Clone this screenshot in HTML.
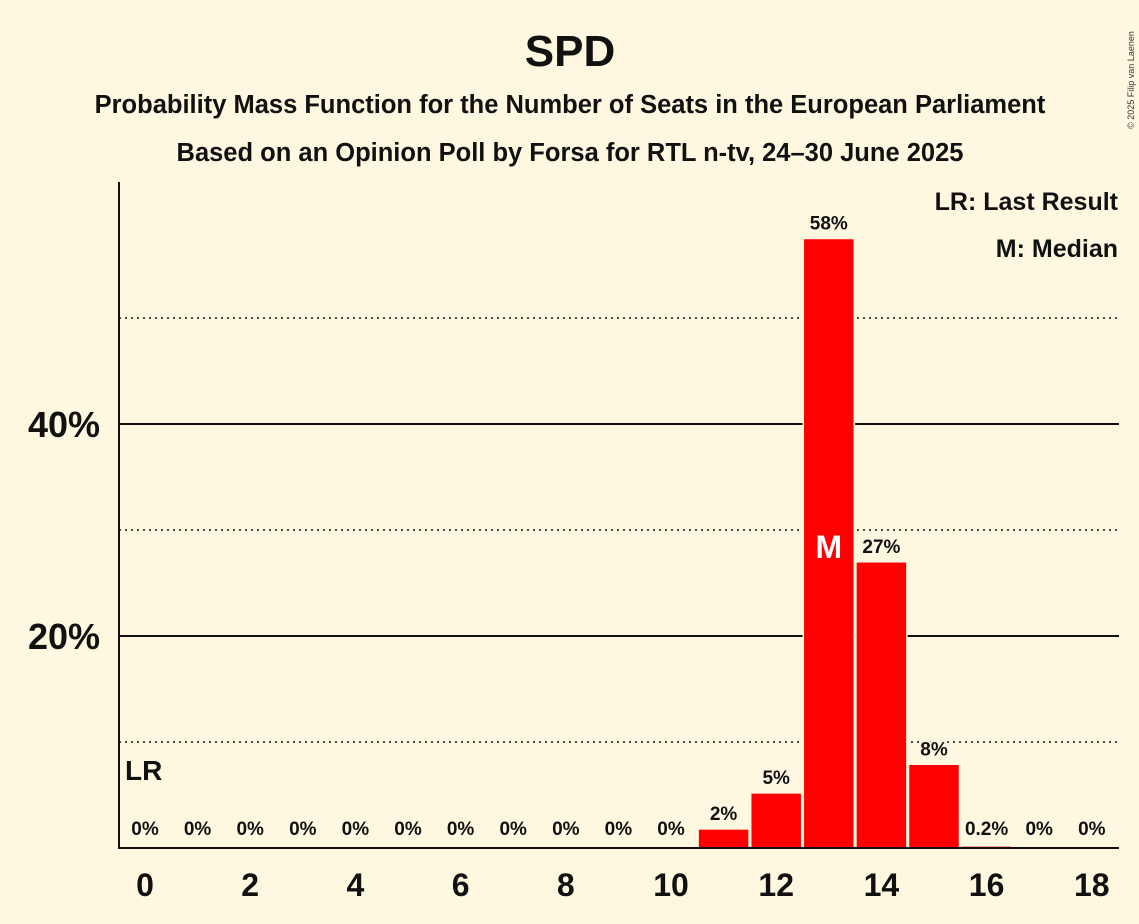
<!DOCTYPE html>
<html><head><meta charset="utf-8"><style>
body{margin:0;background:#fff8e1;}
svg{display:block;font-family:"Liberation Sans",sans-serif;}
</style></head><body>
<svg width="1139" height="924" id="c">
<rect width="1139" height="924" fill="#fff8e1"/>
<text x="570" y="66" text-anchor="middle" font-size="44" font-weight="bold" fill="#111">SPD</text>
<text x="570" y="113" text-anchor="middle" font-size="25.5" font-weight="bold" fill="#111">Probability Mass Function for the Number of Seats in the European Parliament</text>
<text x="570" y="161" text-anchor="middle" font-size="25.5" font-weight="bold" fill="#111">Based on an Opinion Poll by Forsa for RTL n-tv, 24–30 June 2025</text>
<text x="1118" y="210" text-anchor="end" font-size="25" font-weight="bold" fill="#111">LR: Last Result</text>
<text x="1118" y="257" text-anchor="end" font-size="25" font-weight="bold" fill="#111">M: Median</text>
<text x="1134" y="80" transform="rotate(-90 1134 80)" text-anchor="middle" font-size="9" fill="#333">© 2025 Filip van Laenen</text>
<g id="grid"></g>
<g id="bars"></g>
<line x1="119" y1="182" x2="119" y2="848" stroke="#111" stroke-width="2"/>
<line x1="118" y1="848" x2="1119" y2="848" stroke="#111" stroke-width="2"/>
<text x="125" y="780" font-size="28" font-weight="bold" fill="#111">LR</text>
</svg>
<script>
const categories=[0,1,2,3,4,5,6,7,8,9,10,11,12,13,14,15,16,17,18];
const values=[0,0,0,0,0,0,0,0,0,0,0,1.8,5.2,57.5,27.0,7.9,0.2,0,0];
const valueLabels=["0%","0%","0%","0%","0%","0%","0%","0%","0%","0%","0%","2%","5%","58%","27%","8%","0.2%","0%","0%"];
const xTicks=[0,2,4,6,8,10,12,14,16,18];
const gridValues=[10,20,30,40,50];
const yTickLabels=["20%","40%"];
const yTickValues=[20,40];
const medianIndex=13;
const NS="http://www.w3.org/2000/svg";
const y=v=>848-v*10.6;
const x=c=>145+c*52.6;
const grid=document.getElementById('grid'),bars=document.getElementById('bars'),svg=document.getElementById('c');
function mk(t,a,p){const e=document.createElementNS(NS,t);for(const k in a)e.setAttribute(k,a[k]);(p||svg).appendChild(e);return e;}
gridValues.forEach(g=>{const solid=g%20===0;
const l=mk('line',{x1:119,x2:1119,y1:y(g),y2:y(g),stroke:'#111','stroke-width':solid?2:1.5,'stroke-dasharray':solid?'':'2,4'},grid);

});
yTickValues.forEach((v,i)=>{const t=mk('text',{x:100,y:y(v)+13,'text-anchor':'end','font-size':36,'font-weight':'bold',fill:'#111'});t.textContent=yTickLabels[i];

});
xTicks.forEach(c=>{const t=mk('text',{x:x(c),y:896,'text-anchor':'middle','font-size':32,'font-weight':'bold',fill:'#111'});t.textContent=c;

});
categories.forEach((c,i)=>{const v=values[i];
if(v>0){const h=Math.max(848-y(v),2);
const r=mk('rect',{x:x(c)-25.5,y:848-h,width:51,height:h,fill:'#ff0000',stroke:'#fff8e1','stroke-width':1.5},bars);

}
const t=mk('text',{x:x(c),y:v>0.5?y(v)-9:835,'text-anchor':'middle','font-size':19,'font-weight':'bold',fill:'#111',stroke:'#fff8e1','stroke-width':4,'paint-order':'stroke'});t.textContent=valueLabels[i];

});
const m=mk('text',{x:x(categories[medianIndex]),y:558,'text-anchor':'middle','font-size':32,'font-weight':'bold',fill:'#fff'});m.textContent='M';


</script>
</body></html>
